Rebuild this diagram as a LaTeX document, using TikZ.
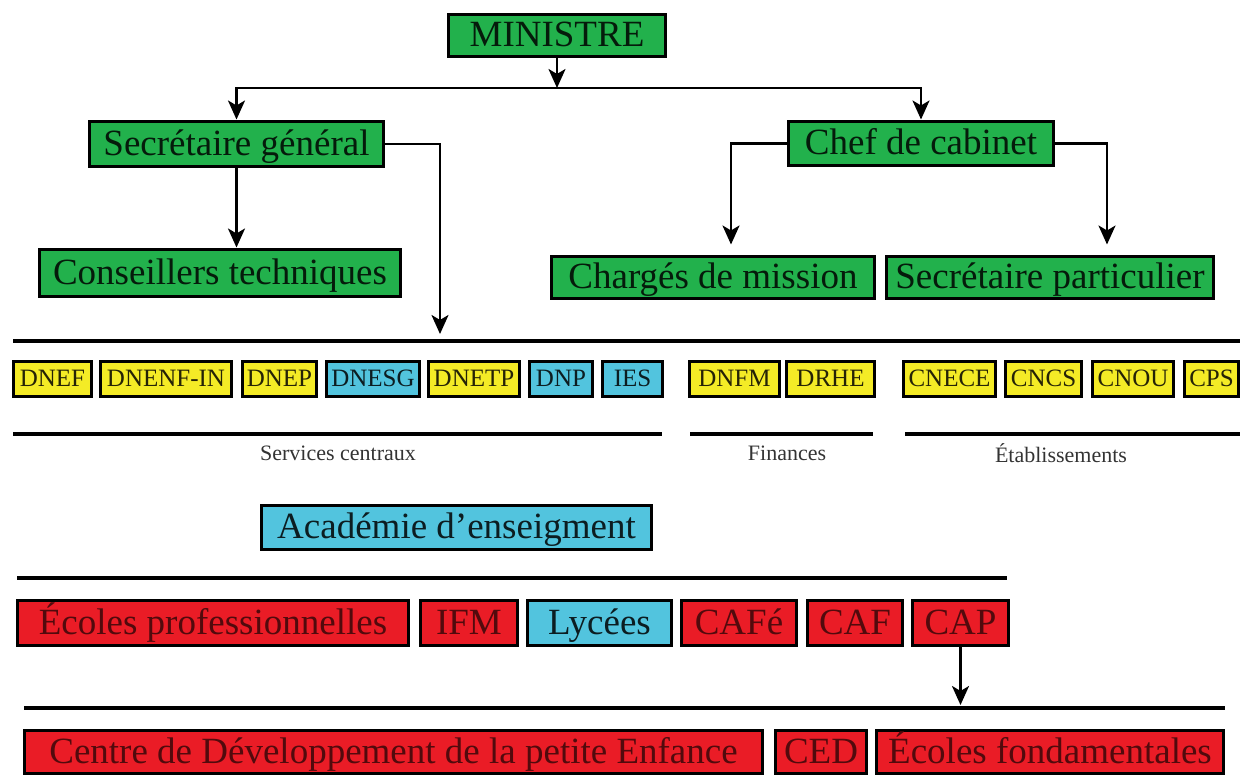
\documentclass[tikz,border=0pt]{standalone}
\usepackage{fontspec}
\setmainfont{Liberation Serif}
\usetikzlibrary{shapes,arrows,arrows.meta,calc,positioning}

\definecolor{boxgreen}{RGB}{34,177,76}
\definecolor{boxyellow}{RGB}{244,235,38}
\definecolor{boxblue}{RGB}{82,196,222}
\definecolor{boxred}{RGB}{234,28,38}

\begin{document}
\begin{tikzpicture}[x=1pt, y=-1pt, node distance=10pt,
  box/.style={rectangle, draw=black, line width=3pt, inner sep=1pt, outer sep=0pt,
    text height=24.5pt, text depth=2pt, font=\fontsize{37}{40}\selectfont},
  sbox/.style={box, font=\fontsize{25}{28}\selectfont, text height=16.5pt, text depth=1.5pt,
    minimum height=35pt},
  gbox/.style={box, fill=boxgreen, text=boxgreen!15!black},
  ybox/.style={sbox, fill=boxyellow, text=boxyellow!15!black},
  bbox/.style={sbox, fill=boxblue, text=boxblue!15!black},
  rbox/.style={box, fill=boxred, text=boxred!35!black, minimum height=45pt},
  lbl/.style={font=\fontsize{22}{24}\selectfont, text=black!80},
  conn/.style={line width=2.5pt, -{Stealth[length=19pt, width=17pt, inset=5pt]}},
  sep/.style={line width=3.5pt}]
\useasboundingbox (0,0) rectangle (1243,776);

% top of the ministry
\node[gbox, minimum width=217pt, minimum height=42pt] (minister) at (557,35.5) {MINISTRE};
\node[gbox, minimum width=294pt, minimum height=45pt] (secgen) at (236.5,144) {Secrétaire général};
\node[gbox, minimum width=265pt, minimum height=44pt] (chef) at (921,143.5) {Chef de cabinet};
\node[gbox, minimum width=361pt, minimum height=47pt] (conseil) at (220,273) {Conseillers techniques};
\node[gbox, minimum width=323pt, minimum height=42pt] (charges) at (713,277.5) {Chargés de mission};
\node[gbox, minimum width=327pt, minimum height=42pt, right=12pt of charges] (secpart) {Secrétaire particulier};

\coordinate (split) at (557,88);
\coordinate (svcin) at (440,334);
\draw[conn] (minister) -- (split);
\draw[conn, shorten >=2pt] (split) -| (secgen);
\draw[conn, shorten >=2pt] (split) -| (chef);
\draw[conn, shorten >=2pt] (secgen) -- (secgen.south |- conseil.north);
\draw[conn] (secgen.east) -| (svcin);
\draw[conn, shorten >=12pt] (chef.west) -| ([xshift=18pt]charges.north);
\draw[conn, shorten >=12pt] (chef.east) -| ([xshift=57pt]secpart.north);

% central services
\draw[sep] (13,341) -- (1240,341);
\node[ybox, minimum width=78pt] (dnef) at (52.5,379) {DNEF};
\node[ybox, minimum width=131pt, right=9pt of dnef] (dnenf) {DNENF-IN};
\node[ybox, minimum width=74pt, right=11pt of dnenf] (dnep) {DNEP};
\node[bbox, minimum width=93pt, right=10pt of dnep] (dnesg) {DNESG};
\node[ybox, minimum width=91pt, right=9pt of dnesg] (dnetp) {DNETP};
\node[bbox, minimum width=63pt, right=10pt of dnetp] (dnp) {DNP};
\node[bbox, minimum width=60pt, right=10pt of dnp] (ies) {IES};
\node[ybox, minimum width=90pt, right=27pt of ies] (dnfm) {DNFM};
\node[ybox, minimum width=88pt, right=7pt of dnfm] (drhe) {DRHE};
\node[ybox, minimum width=92pt, right=29pt of drhe] (cnece) {CNECE};
\node[ybox, minimum width=76pt, right=10pt of cnece] (cncs) {CNCS};
\node[ybox, minimum width=81pt, right=11pt of cncs] (cnou) {CNOU};
\node[ybox, minimum width=54pt, right=11pt of cnou] (cps) {CPS};

\draw[sep] (13,434) -- (662,434);
\draw[sep] (690,434) -- (873,434);
\draw[sep] (905,434) -- (1240,434);
\node[lbl] (svclbl) at (338,453) {Services centraux};
\node[lbl] (finlbl) at (787,453) {Finances};
\node[lbl] (etablbl) at (1061,453) {Établissements};

% regional level
\node[box, fill=boxblue, text=boxblue!15!black, minimum width=390pt, minimum height=44pt] (academie) at (456.5,527) {Académie d’enseigment};

\draw[sep] (17,578) -- (1007,578);
\node[rbox, minimum width=391pt] (ecolepro) at (213,623) {Écoles professionnelles};
\node[rbox, minimum width=97pt, right=12pt of ecolepro] (ifm) {IFM};
\node[box, fill=boxblue, text=boxblue!15!black, minimum height=45pt, minimum width=144pt, right=10pt of ifm] (lycees) {Lycées};
\node[rbox, minimum width=115pt, right=10pt of lycees] (cafe) {CAFé};
\node[rbox, minimum width=95pt, right=11pt of cafe] (caf) {CAF};
\node[rbox, minimum width=96pt, right=10pt of caf] (cap) {CAP};

\coordinate (schools) at (962,705);
\draw[conn] (cap) -- (cap.south |- schools);
\draw[sep] (24,708) -- (1225,708);
\node[rbox, minimum width=738pt, minimum height=43pt] (cdpe) at (393.5,752) {Centre de Développement de la petite Enfance};
\node[rbox, minimum width=91pt, minimum height=43pt, right=13pt of cdpe] (ced) {CED};
\node[rbox, minimum width=347pt, minimum height=43pt, right=10pt of ced] (ecolefond) {Écoles fondamentales};
\end{tikzpicture}
\end{document}
